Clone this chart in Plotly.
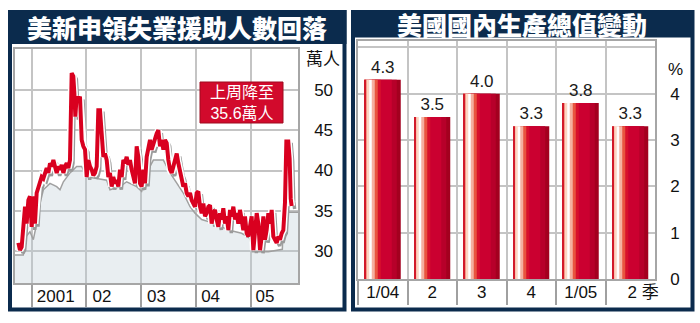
import plotly.graph_objects as go

# ---------------- data ----------------
claims_year = [2000.756, 2000.786, 2000.817, 2000.847, 2000.878, 2000.908, 2000.939, 2000.969,
               2001.000, 2001.030, 2001.060, 2001.091, 2001.121, 2001.152, 2001.182, 2001.213,
               2001.243, 2001.274, 2001.304, 2001.335, 2001.365, 2001.396, 2001.426, 2001.457,
               2001.487, 2001.518, 2001.548, 2001.579, 2001.609, 2001.640, 2001.670, 2001.700,
               2001.731, 2001.761, 2001.780, 2001.798, 2001.822, 2001.853, 2001.883, 2001.914,
               2001.944, 2001.975, 2002.005, 2002.036, 2002.066, 2002.097, 2002.127, 2002.157,
               2002.188, 2002.218, 2002.249, 2002.279, 2002.310, 2002.340, 2002.371, 2002.401,
               2002.431, 2002.462, 2002.492, 2002.523, 2002.553, 2002.584, 2002.614, 2002.645,
               2002.675, 2002.706, 2002.736, 2002.767, 2002.797, 2002.827, 2002.858, 2002.888,
               2002.919, 2002.949, 2002.980, 2003.010, 2003.041, 2003.071, 2003.102, 2003.132,
               2003.163, 2003.193, 2003.224, 2003.254, 2003.285, 2003.315, 2003.346, 2003.376,
               2003.407, 2003.437, 2003.468, 2003.498, 2003.529, 2003.559, 2003.590, 2003.620,
               2003.651, 2003.681, 2003.712, 2003.742, 2003.772, 2003.803, 2003.833, 2003.864,
               2003.894, 2003.925, 2003.955, 2003.986, 2004.016, 2004.046, 2004.077, 2004.107,
               2004.138, 2004.168, 2004.199, 2004.229, 2004.260, 2004.290, 2004.321, 2004.351,
               2004.382, 2004.412, 2004.442, 2004.473, 2004.503, 2004.534, 2004.564, 2004.595,
               2004.625, 2004.656, 2004.686, 2004.717, 2004.747, 2004.777, 2004.808, 2004.838,
               2004.869, 2004.899, 2004.930, 2004.960, 2004.991, 2005.021, 2005.052, 2005.082,
               2005.113, 2005.143, 2005.174, 2005.204, 2005.235, 2005.265, 2005.295, 2005.326,
               2005.356, 2005.387, 2005.417, 2005.448, 2005.478, 2005.509, 2005.539, 2005.570,
               2005.600, 2005.630, 2005.655, 2005.690, 2005.715, 2005.735, 2005.752]
claims_value = [31.0, 30.1, 30.5, 33.0, 35.5, 33.4, 36.3, 36.8,
                33.0, 36.8, 33.4, 37.2, 38.0, 38.4, 39.2, 39.0,
                39.7, 40.3, 39.7, 40.9, 40.5, 41.3, 40.5, 39.7,
                40.5, 40.1, 40.7, 39.7, 40.5, 40.9, 40.3, 41.3,
                52.1, 51.7, 49.6, 46.7, 49.2, 48.6, 49.2, 43.8,
                43.0, 42.6, 39.2, 41.3, 40.5, 40.1, 39.4, 39.7,
                40.5, 47.5, 47.5, 44.6, 41.7, 42.1, 41.3, 39.2,
                39.7, 38.0, 39.2, 38.4, 38.8, 38.0, 40.1, 39.2,
                41.3, 40.9, 41.7, 40.7, 41.3, 40.1, 39.2, 38.4,
                43.0, 41.7, 38.4, 38.0, 40.1, 38.4, 41.7, 42.6,
                43.8, 42.6, 43.4, 44.2, 44.6, 45.0, 43.0, 43.8,
                42.6, 43.8, 43.4, 41.3, 40.1, 39.7, 40.5, 41.3,
                42.1, 40.9, 39.7, 39.2, 38.0, 38.4, 37.2, 36.8,
                37.2, 36.3, 35.9, 35.5, 37.2, 37.4, 35.5, 34.7,
                35.9, 34.3, 34.7, 35.5, 35.7, 33.4, 34.7, 35.1,
                33.9, 33.0, 34.7, 33.9, 35.3, 33.4, 34.3, 32.6,
                35.1, 34.3, 35.5, 33.9, 34.7, 33.4, 35.1, 33.4,
                32.6, 34.3, 32.2, 31.8, 33.4, 34.3, 30.1, 32.6,
                34.7, 33.4, 30.1, 31.8, 34.3, 31.4, 32.6, 34.7,
                33.4, 35.1, 31.8, 31.4, 31.0, 31.8, 31.4, 32.2,
                32.6, 36.0, 43.6, 43.6, 41.5, 36.5, 35.6]

env_year = [2000.695, 2000.847, 2000.896, 2000.969, 2001.030, 2001.091, 2001.152, 2001.213,
            2001.335, 2001.457, 2001.518, 2001.579, 2001.700, 2001.822, 2001.914, 2002.005,
            2002.188, 2002.371, 2002.431, 2002.614, 2002.736, 2002.919, 2003.010, 2003.102,
            2003.163, 2003.224, 2003.407, 2003.529, 2003.651, 2003.772, 2003.894, 2003.986,
            2004.107, 2004.351, 2004.595, 2004.838, 2004.991, 2005.033, 2005.326, 2005.582,
            2005.606, 2005.870]
env_value = [29.5, 29.5, 31.8, 32.4, 31.4, 33.4, 35.9, 37.6,
             38.4, 38.0, 37.6, 38.6, 39.7, 40.5, 40.5, 39.2,
             39.0, 38.8, 37.6, 38.0, 38.6, 38.0, 37.4, 39.2,
             40.5, 41.3, 41.3, 39.7, 38.4, 37.2, 35.5, 34.7,
             33.9, 33.4, 32.6, 32.2, 31.6, 29.9, 29.9, 30.2,
             34.8, 34.8]

year_ticks = [2001, 2002, 2003, 2004, 2005]
year_label_pos = [2001.44, 2002.285, 2003.28, 2004.27, 2005.265]
year_labels = ["2001", "02", "03", "04", "05"]
claims_ticks = [30, 35, 40, 45, 50]

quarters = ["1/04", "2", "3", "4", "1/05", "2 季"]
gdp_values = [4.3, 3.5, 4.0, 3.3, 3.8, 3.3]
gdp_ticks = [0, 1, 2, 3, 4, 5]
gdp_ticktext = ["0", "1", "2", "3", "4", ""]

# ---------------- styling helpers ----------------
W, H = 700, 323
def PX(p): return p / W
def PY(p): return 1 - p / H

NAVY = "#0b2b4d"
RED = "#d9001f"
GRID = "#c4c4c4"
BORDER = "#a6a6a6"
NUM_FONT = "Liberation Sans, Arial, Noto Sans CJK TC"
CJK_FONT = "Noto Sans CJK TC, Noto Sans CJK SC"

XL = [2000.695, 2005.868]
YL = [26.02, 55.16]
dx = 3 * (XL[1] - XL[0]) / (298 - 15)
dy = 3 * (YL[1] - YL[0]) / (283 - 48.5)

fig = go.Figure()

# envelope area (left)
fig.add_trace(go.Scatter(x=env_year, y=env_value, mode="lines", fill="tozeroy",
                         fillcolor="rgba(188,202,212,0.32)",
                         line=dict(color="#a0a0a0", width=1.5),
                         xaxis="x", yaxis="y", hoverinfo="skip"))
# shadow line
fig.add_trace(go.Scatter(x=claims_year, y=claims_value, mode="lines",
                         line=dict(color="#9a9a9a", width=3.5),
                         xaxis="x3", yaxis="y3", hoverinfo="skip"))
# white halo + red line
fig.add_trace(go.Scatter(x=claims_year, y=claims_value, mode="lines",
                         line=dict(color="white", width=7),
                         xaxis="x4", yaxis="y4", hoverinfo="skip"))
fig.add_trace(go.Scatter(x=claims_year, y=claims_value, mode="lines",
                         line=dict(color=RED, width=4),
                         xaxis="x4", yaxis="y4"))

# ---------------- bars (right) ----------------
cat_px = (655 - 358) / 6.0
bar_px = 36.0
stripes = [(36, "#a3001f"), (32, "#b7002a"), (27, "#cb0030"), (16, "#d8102c"),
           (13, "#e8553f"), (10, "#f5b0a0"), (7, "#ffffff"), (4.5, "#fcd5c2"),
           (2, "#f08575"), (1, "#d21a2a")]
xpos = list(range(len(quarters)))
for i, (w, col) in enumerate(stripes):
    fig.add_trace(go.Bar(
        x=xpos, y=gdp_values, width=w / cat_px, offset=-bar_px / 2 / cat_px,
        marker=dict(color=col, line=dict(width=0)),
        text=[f"{v:.1f}" for v in gdp_values] if i == 0 else None,
        textposition="outside" if i == 0 else "none",
        textfont=dict(family=NUM_FONT, size=17, color="#1a1a1a"),
        cliponaxis=False, xaxis="x2", yaxis="y2"))

label_pos = list(xpos)
label_pos[-1] = label_pos[-1] + 0.26

fig.update_layout(
    width=W, height=H, autosize=False, margin=dict(l=0, r=0, t=0, b=0, pad=0),
    paper_bgcolor="white", plot_bgcolor="white", showlegend=False,
    barmode="overlay",
    xaxis=dict(domain=[PX(15), PX(298)], range=XL, anchor="y", automargin=False,
               tickmode="array", tickvals=year_label_pos, ticktext=year_labels,
               ticks="", showgrid=False, zeroline=False, ticklabelstandoff=-3,
               tickfont=dict(family=NUM_FONT, size=17, color="#111"),
               showline=True, mirror=True, linecolor=BORDER, linewidth=1.5,
               minor=dict(tickmode="array", tickvals=year_ticks, showgrid=True,
                          gridcolor=GRID, gridwidth=1.5, ticks="outside",
                          ticklen=22, tickcolor="#a0a0a0", tickwidth=1.5)),
    yaxis=dict(domain=[PY(283), PY(48.5)], range=YL, anchor="x", side="right",
               automargin=False,
               tickmode="array", tickvals=claims_ticks, ticks="",
               showgrid=True, gridcolor=GRID, gridwidth=1.5, zeroline=False,
               ticklabelstandoff=11,
               tickfont=dict(family=NUM_FONT, size=17, color="#111"),
               showline=True, mirror=True, linecolor=BORDER, linewidth=1.5),
    xaxis3=dict(overlaying="x", anchor="y3", range=[XL[0] - dx, XL[1] - dx],
                visible=False, automargin=False),
    yaxis3=dict(overlaying="y", anchor="x3", range=[YL[0] + dy, YL[1] + dy],
                visible=False, automargin=False),
    xaxis4=dict(overlaying="x", anchor="y4", range=XL, visible=False, automargin=False),
    yaxis4=dict(overlaying="y", anchor="x4", range=YL, visible=False, automargin=False),
    xaxis2=dict(domain=[PX(358), PX(655)], range=[-0.5, 5.5], anchor="y2", automargin=False,
                tickmode="array", tickvals=label_pos, ticktext=quarters,
                ticks="", showgrid=False, zeroline=False, ticklabelstandoff=-3,
                tickfont=dict(family=NUM_FONT, size=17, color="#111"),
                showline=True, mirror=True, linecolor=BORDER, linewidth=1.5,
                minor=dict(tickmode="array", tickvals=[-0.5, 0.5, 1.5, 2.5, 3.5, 4.5],
                           showgrid=True, gridcolor=GRID, gridwidth=1.5,
                           ticks="outside", ticklen=24, tickcolor="#a0a0a0", tickwidth=1.5)),
    yaxis2=dict(domain=[PY(279), PY(40.5)], range=[0, 5.15], anchor="x2", side="right",
                automargin=False,
                tickmode="array", tickvals=gdp_ticks, ticktext=gdp_ticktext, ticks="",
                showgrid=True, gridcolor=GRID, gridwidth=1.5, zeroline=False,
                ticklabelstandoff=10,
                tickfont=dict(family=NUM_FONT, size=17, color="#111"),
                showline=True, mirror=True, linecolor=BORDER, linewidth=1.5),
)

shapes = [
    # title bands
    dict(type="rect", xref="paper", yref="paper", x0=PX(8), x1=PX(346.5), y0=PY(44), y1=PY(10),
         fillcolor=NAVY, line=dict(width=0), layer="above"),
    dict(type="rect", xref="paper", yref="paper", x0=PX(351), x1=PX(694), y0=PY(37.5), y1=PY(10),
         fillcolor=NAVY, line=dict(width=0), layer="above"),
    # frames
    dict(type="rect", xref="paper", yref="paper", x0=PX(10), x1=PX(344.5), y0=PY(309.5), y1=PY(12),
         line=dict(color=NAVY, width=4), layer="above"),
    dict(type="rect", xref="paper", yref="paper", x0=PX(353), x1=PX(692.5), y0=PY(309.5), y1=PY(12),
         line=dict(color=NAVY, width=4), layer="above"),
    # callout box
    dict(type="rect", xref="paper", yref="paper", x0=PX(200), x1=PX(283), y0=PY(123), y1=PY(82),
         fillcolor="#d20a2c", line=dict(color="#9e0a1f", width=1), layer="above"),
]
fig.update_layout(shapes=shapes)

ann = [
    dict(text="美新申領失業援助人數回落", x=PX(177), y=PY(27.5), xref="paper", yref="paper",
         showarrow=False, xanchor="center", yanchor="middle",
         font=dict(family=CJK_FONT, size=25, color="white", weight=900)),
    dict(text="美國國內生產總值變動", x=PX(522), y=PY(24.5), xref="paper", yref="paper",
         showarrow=False, xanchor="center", yanchor="middle",
         font=dict(family=CJK_FONT, size=25, color="white", weight=900)),
    dict(text="上周降至<br>35.6萬人", x=PX(242), y=PY(103), xref="paper", yref="paper",
         showarrow=False, xanchor="center", yanchor="middle", align="center",
         font=dict(family="Liberation Sans, Noto Sans CJK TC", size=16, color="white")),
    dict(text="萬人", x=PX(323), y=PY(57), xref="paper", yref="paper",
         showarrow=False, xanchor="center", yanchor="middle",
         font=dict(family=CJK_FONT, size=17, color="#111")),
    dict(text="%", x=PX(675), y=PY(69), xref="paper", yref="paper",
         showarrow=False, xanchor="center", yanchor="middle",
         font=dict(family=NUM_FONT, size=17, color="#111")),
]
fig.update_layout(annotations=ann)

fig.write_html("out.html")
